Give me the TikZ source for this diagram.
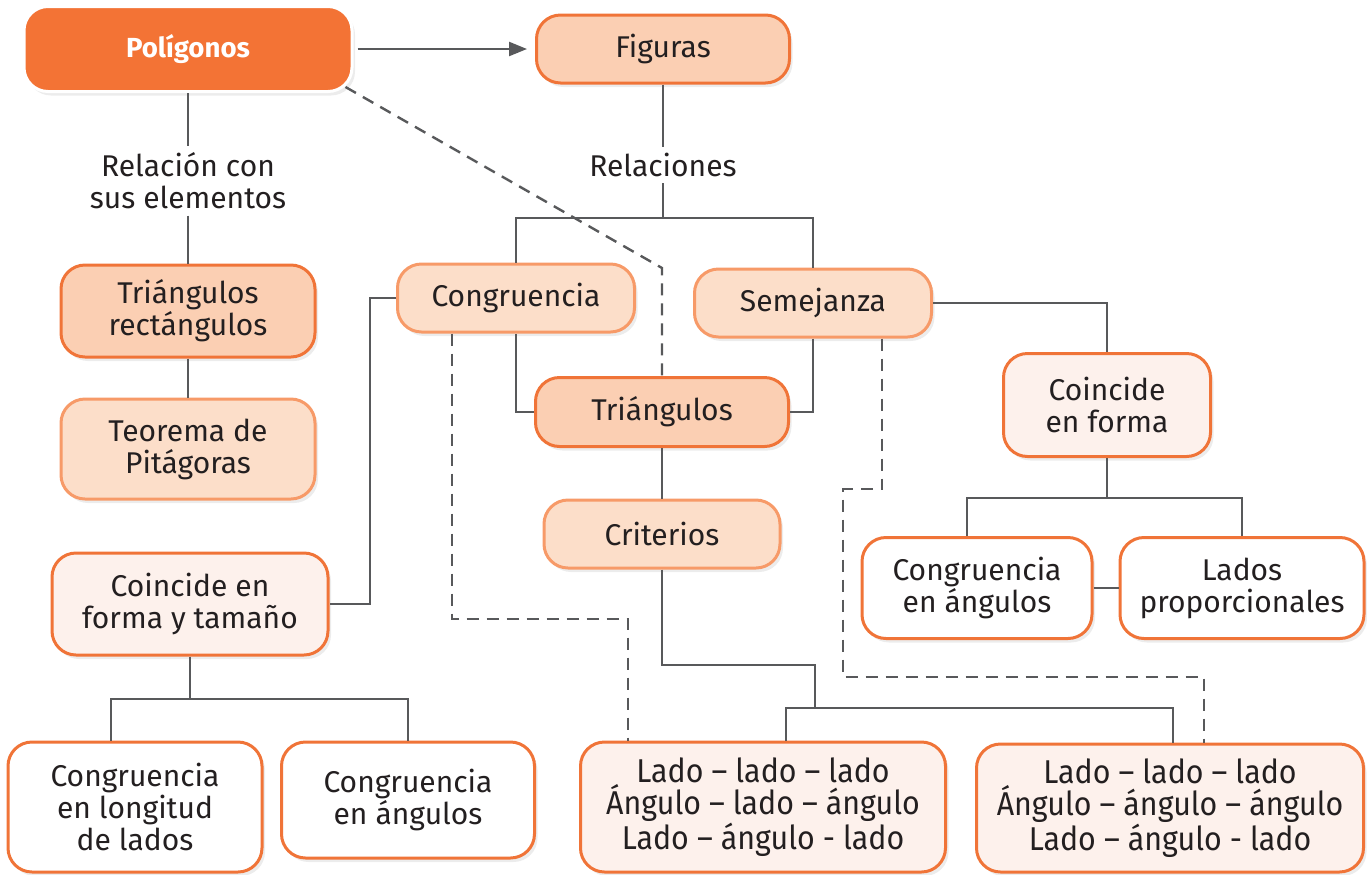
\documentclass[tikz,border=0pt]{standalone}
\usepackage{fontspec}
\setmainfont{Fira Sans}
\newfontfamily\estrecha[FakeStretch=0.92]{Fira Sans}
\usepackage{tikz}
\usetikzlibrary{arrows.meta,shadows}
\definecolor{naranja}{HTML}{F37335}
\definecolor{borde}{HTML}{F07438}
\definecolor{bordeclaro}{HTML}{F79A68}
\definecolor{durazno}{HTML}{FBCFB3}
\definecolor{duraznoclaro}{HTML}{FCDEC9}
\definecolor{crema}{HTML}{FDF1EC}
\definecolor{linea}{HTML}{58595B}
\definecolor{texto}{HTML}{231F20}
\begin{document}
\begin{tikzpicture}[x=0.5pt,y=-0.5pt,
  caja/.style={rounded corners=12pt, line width=1.5pt, align=center, text=texto, inner sep=0pt,
    font=\fontsize{15}{16}\selectfont, drop shadow={shadow xshift=1.5pt, shadow yshift=-2pt, opacity=0.15}},
  principal/.style={caja, fill=naranja, draw=white, text=white, font=\fontsize{13.8}{16}\selectfont\bfseries},
  fuerte/.style={caja, fill=durazno, draw=borde},
  suave/.style={caja, fill=duraznoclaro, draw=bordeclaro},
  palido/.style={caja, fill=crema, draw=borde},
  blanco/.style={caja, fill=white, draw=borde},
  criterio/.style={palido, font=\estrecha\fontsize{16.5}{16}\selectfont},
  etiqueta/.style={align=center, text=texto, font=\fontsize{15}{16}\selectfont, fill=white, inner sep=3pt},
  ln/.style={draw=linea, line width=1.2pt},
  dsh/.style={ln, dash pattern=on 6pt off 4pt}]
\useasboundingbox (0,0) rectangle (1367,874);
\node[principal, minimum width=164pt, minimum height=42.5pt] (pol) at (188,49) {Polígonos};
\node[fuerte, minimum width=126.5pt, minimum height=34pt] (fig) at (663,49) {Figuras};
\node[etiqueta] (rel1) at (188,181) {Relación con\\sus elementos};
\node[etiqueta] (rel2) at (663,165) {Relaciones};
\node[fuerte, minimum width=127pt, minimum height=46pt] (trir) at (188,311) {Triángulos\\rectángulos};
\node[suave, minimum width=127pt, minimum height=50pt] (teo) at (188,449) {Teorema de\\Pitágoras};
\node[suave, minimum width=118.5pt, minimum height=34pt] (cong) at (516,298) {Congruencia};
\node[suave, minimum width=118.5pt, minimum height=34pt] (sem) at (813,303) {Semejanza};
\node[fuerte, minimum width=126.5pt, minimum height=34.5pt] (tri) at (662,412) {Triángulos};
\node[suave, minimum width=118pt, minimum height=34pt] (crit) at (662,534) {Criterios};
\node[palido, minimum width=138pt, minimum height=51pt] (cft) at (190,604) {Coincide en\\forma y tamaño};
\node[palido, minimum width=103.5pt, minimum height=51.5pt] (cf) at (1107,405) {Coincide\\en forma};
\node[blanco, minimum width=127pt, minimum height=65pt] (cll) at (135,807) {Congruencia\\en longitud\\de lados};
\node[blanco, minimum width=126.5pt, minimum height=58pt] (cab) at (408,800) {Congruencia\\en ángulos};
\node[blanco, minimum width=115pt, minimum height=50.5pt] (ca2) at (977,588) {Congruencia\\en ángulos};
\node[blanco, minimum width=122pt, minimum height=50.5pt] (lp) at (1242,588) {Lados\\proporcionales};
\node[criterio, minimum width=182.5pt, minimum height=65pt] (crc) at (763,807) {Lado – lado – lado\\Ángulo – lado – ángulo\\Lado – ángulo - lado};
\node[criterio, minimum width=193.5pt, minimum height=64pt] (crs) at (1170,808) {Lado – lado – lado\\Ángulo – ángulo – ángulo\\Lado – ángulo - lado};
\coordinate (b1) at (663,218);
\coordinate (b2) at (815,708);
\coordinate (b3) at (190,699);
\coordinate (b4) at (1107,498);
\coordinate (d1) at (628,619);
\coordinate (d2) at (843,489);
\coordinate (d3) at (1204,677);
\draw[ln, -{Triangle[length=9pt,width=7pt]}, shorten <=2pt, shorten >=4pt] (pol.east) -- (fig.west);
\draw[ln] (pol.south) -- (rel1.north) (rel1.south) -- (trir.north) (trir.south) -- (teo.north);
\draw[ln] (fig.south) -- (rel2.north) (rel2.south) -- (b1);
\draw[ln] (cong.north) |- (b1) -| (sem.north);
\draw[ln] (cong.south) |- (tri.west) (sem.south) |- (tri.east);
\draw[ln] (tri.south) -- (crit.north);
\draw[ln] (crit.south) |- (b2 |- 0,665) -- (b2);
\draw[ln] ([xshift=11.5pt]crc.north) |- (b2) -| ([xshift=1.5pt]crs.north);
\draw[ln] (cong.west) -| (370,450) |- (cft.east);
\draw[ln] (cft.south) -- (b3);
\draw[ln] ([xshift=-12pt]cll.north) |- (b3) -| (cab.north);
\draw[ln] (sem.east) -| (cf.north);
\draw[ln] (cf.south) -- (b4);
\draw[ln] ([xshift=-5pt]ca2.north) |- (b4) -| (lp.north);
\draw[ln] (ca2.east) -- (lp.west);
\draw[dsh] ([xshift=-4pt,yshift=3pt]pol.south east) -- (tri.north |- 0,268) -- (tri.north);
\draw[dsh] ([xshift=-32pt]cong.south) |- (d1) -- (crc.north -| d1);
\draw[dsh] ([xshift=34.5pt]sem.south) |- (d2) |- (d3) -- (crs.north -| d3);
\end{tikzpicture}
\end{document}
